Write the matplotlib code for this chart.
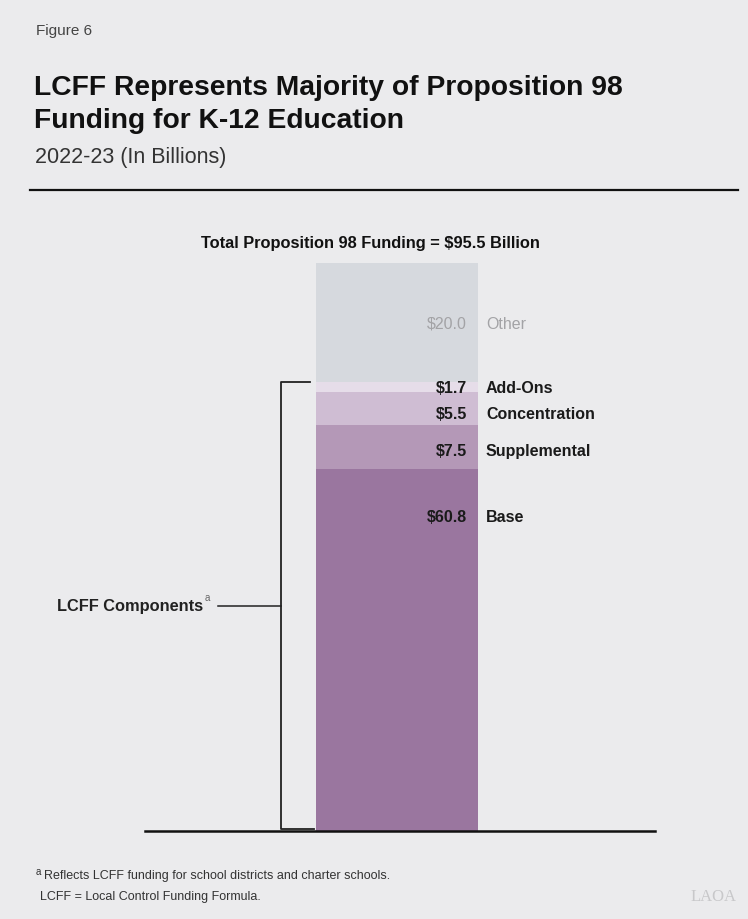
import matplotlib
matplotlib.use('Agg')
import matplotlib.pyplot as plt

# Data (billions), stacked bottom to top
segments = ['Base', 'Supplemental', 'Concentration', 'Add-Ons', 'Other']
values = [60.8, 7.5, 5.5, 1.7, 20.0]
value_labels = ['$60.8', '$7.5', '$5.5', '$1.7', '$20.0']
total_label = 'Total Proposition 98 Funding = $95.5 Billion'

colors = ['#9A769F', '#B498B7', '#CFBDD3', '#E6DDE9', '#D6D9DE']
text_colors = ['#1a1a1a', '#1a1a1a', '#1a1a1a', '#1a1a1a', '#A3A3A6']
# vertical nudge of each label from segment centre (billions)
label_nudge = [22.3, -0.8, -1.1, -0.2, -0.3]

BG = '#EBEBED'
W, H = 748, 919
plt.rcParams['font.family'] = ['Liberation Sans', 'DejaVu Sans']

fig = plt.figure(figsize=(W / 100, H / 100), dpi=100, facecolor=BG)


def fx(px):
    return px / W


def fy(py):
    return 1 - py / H


# header
fig.text(fx(36), fy(31), 'Figure 6', fontsize=11, color='#444444', va='center')
fig.text(fx(34), fy(88), 'LCFF Represents Majority of Proposition 98', fontsize=20.3,
         fontweight='bold', color='#111111', va='center')
fig.text(fx(34), fy(121), 'Funding for K-12 Education', fontsize=20.3,
         fontweight='bold', color='#111111', va='center')
fig.text(fx(35), fy(158), '2022-23 (In Billions)', fontsize=15.5, color='#333333', va='center')
fig.add_artist(plt.Line2D([fx(30), fx(738)], [fy(190), fy(190)], color='#111111', lw=1.6))

# chart axes: x in pixel units, y in billions
total = sum(values)
ax = fig.add_axes([fx(145), fy(831), fx(655) - fx(145), fy(263) - fy(831)])
ax.set_facecolor(BG)
ax.set_xlim(145, 655)
ax.set_ylim(0, total)
for s in ax.spines.values():
    s.set_visible(False)
ax.set_xticks([])
ax.set_yticks([])

bar_x, bar_w = 397, 162
bottom = 0
for name, v, vl, c, tc, nd in zip(segments, values, value_labels, colors, text_colors, label_nudge):
    ax.bar(bar_x, v, width=bar_w, bottom=bottom, color=c, edgecolor='none', zorder=2)
    ymid = bottom + v / 2 + nd
    weight = 'normal' if name == 'Other' else 'bold'
    ax.text(bar_x + bar_w / 2 - 11, ymid, vl, ha='right', va='center', fontsize=11.5,
            fontweight=weight, color=tc)
    ax.text(bar_x + bar_w / 2 + 8, ymid, name, ha='left', va='center', fontsize=11.5,
            fontweight=weight, color=tc)
    bottom += v

ax.text(370, total + 3.2, total_label, ha='center', va='center', fontsize=11.8,
        fontweight='bold', color='#111111', clip_on=False)

# baseline
ax.plot([145, 655], [0, 0], color='#111111', lw=1.8, clip_on=False, zorder=3)

# bracket for LCFF components
lcff_top = sum(values[:4])
ax.plot([310, 281, 281, 314], [lcff_top, lcff_top, 0.4, 0.4], color='#222222', lw=1.3,
        clip_on=False, zorder=3)
ax.plot([218, 281], [lcff_top / 2, lcff_top / 2], color='#222222', lw=1.1, clip_on=False)
lab = ax.text(57, lcff_top / 2, 'LCFF Components', ha='left', va='center', fontsize=11.8,
              fontweight='bold', color='#222222')
ax.annotate('a', xy=(1, 0.75), xycoords=lab, xytext=(1, 0), textcoords='offset points',
            ha='left', va='bottom', fontsize=7, color='#666666')

# footnotes
fig.text(fx(36), fy(872), 'a', fontsize=7, color='#333333', va='center')
fig.text(fx(44), fy(876), 'Reflects LCFF funding for school districts and charter schools.',
         fontsize=9, color='#333333', va='center')
fig.text(fx(40), fy(897), 'LCFF = Local Control Funding Formula.', fontsize=9,
         color='#333333', va='center')
fig.text(fx(737), fy(897), 'LAOA', fontsize=12, color='#C8C8CA', va='center', ha='right',
         family=['Liberation Serif', 'DejaVu Serif'])

fig.savefig('out.png', dpi=100, facecolor=BG)
